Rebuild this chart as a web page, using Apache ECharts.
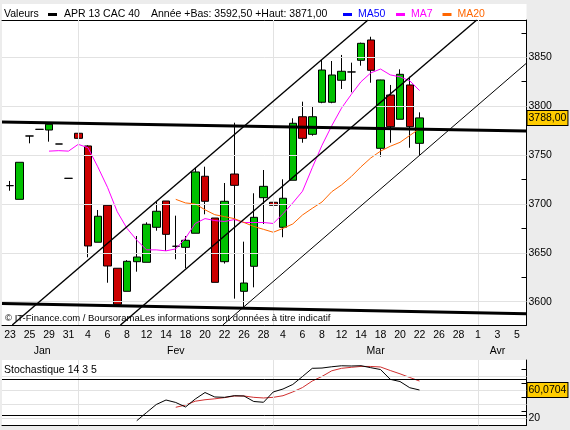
<!DOCTYPE html>
<html><head><meta charset="utf-8">
<script src="https://cdn.jsdelivr.net/npm/echarts@6.0.0/dist/echarts.min.js"></script>
<style>html,body{margin:0;padding:0;background:#ececec;}#chart{width:570px;height:430px;}</style>
</head><body><div id="chart"></div>
<script>
// ---- categories (trading-day slots) ----
const dates = ['23','24','25','28','29','30','31',
  '1','4','5','6','7','8','11','12','13','14','15','18','19','20','21','22','25','26','27','28',
  '1','4','5','6','7','8','11','12','13','14','15','18','19','20','21','22','25','26','27','28','29',
  '1','2','3','4','5'];
const months = ['Jan','Fev','Mar','Avr'];
const monthPos = [3.3, 17, 37.5, 50];
const monthStarts = [7, 27, 48];

// ---- OHLC (slots 0..42) ----
const opens  = [3718.7,3704.7,3769.5,3776.3,3775.6,3761.3,3726.2,3772.3,3759.3,3660.8,3698.6,3634.2,3610.6,3640.9,3640.3,3676.1,3703.0,3656.7,3655.6,3670.0,3728.3,3685.6,3640.9,3730.6,3610.6,3636.2,3706.4,3701.7,3676.1,3724.2,3789.2,3771.2,3804.0,3804.0,3826.5,3835.0,3846.9,3867.7,3756.9,3811.4,3786.6,3821.7,3762.0];
const closes = [3718.7,3742.6,3769.5,3776.3,3781.5,3761.3,3726.2,3767.1,3657.0,3687.4,3636.5,3597.3,3641.3,3645.7,3679.2,3692.5,3668.9,3656.7,3662.8,3732.7,3702.7,3619.8,3702.7,3719.0,3619.1,3686.3,3718.0,3698.6,3705.8,3782.5,3767.1,3789.2,3837.0,3831.9,3835.7,3835.0,3864.3,3836.7,3826.8,3779.0,3832.6,3779.0,3788.0];
const lows   = [3713.5,3704.7,3762.0,3776.3,3763.7,3761.3,3726.2,3767.1,3645.4,3660.8,3619.4,3597.3,3610.6,3630.7,3640.3,3672.6,3651.9,3643.4,3634.2,3670.0,3689.4,3619.8,3639.0,3603.1,3592.5,3614.7,3679.5,3656.3,3665.9,3724.2,3762.6,3769.8,3803.0,3803.0,3817.6,3814.2,3841.4,3824.0,3748.3,3762.6,3786.6,3757.5,3750.1];
const highs  = [3723.5,3742.6,3769.5,3776.3,3781.5,3761.3,3726.2,3776.3,3760.0,3693.8,3698.6,3634.2,3642.5,3667.2,3681.2,3702.3,3703.0,3688.0,3667.2,3737.1,3738.1,3685.6,3721.4,3783.1,3661.4,3710.9,3734.7,3723.5,3725.2,3787.6,3804.6,3800.2,3847.2,3846.2,3852.4,3844.5,3865.0,3871.0,3827.0,3821.7,3837.7,3830.2,3793.7];

// ---- moving averages ----
const ma7Start = 4;
const ma7 = [3754,3754.5,3754,3761,3757.5,3738,3717,3692,3675,3663,3653,3653,3652,3654,3665,3680,3685,3683,3682,3684,3681,3681,3681,3680,3690,3701,3713,3737,3760,3780,3798,3812,3825,3834,3838,3832,3830,3826,3816];
const ma20Start = 17;
const ma20 = [3704.7,3701,3700,3694,3689,3687,3685,3681,3677,3674,3671,3675,3679.5,3688.7,3695.5,3702,3712.5,3719.4,3728,3738,3747,3754,3759,3763,3770,3777];

// ---- stochastic 14 3 5 ----
const stochKStart = 13;
const stochK = [16.6,28.1,39.5,45.9,42.4,36,47.3,56.5,50.2,49.7,52,51.6,43.8,42.7,57.3,61.5,67.9,79.2,90.8,91.2,93,94.4,94.1,94.5,91.7,89.1,75.2,72.1,63.3,60.0704];
const stochDStart = 17;
const stochD = [35.6,38.8,44.2,46.3,47.6,49.3,51.6,51.6,49.7,48.8,49.7,52,57.3,63.6,72.8,79.3,87.3,90.8,92.2,93.5,93.4,92.7,87.7,83,77.8,72.8];

// ---- drawn trend lines [slot, price] ----
const resistance = [[-0.82, 3783.8], [52.97, 3774.6]];
const support = [[-0.82, 3598.2], [52.97, 3587.7]];
const channelUpper = [[0.23, 3576.2], [36.72, 3888.2]];
const channelMiddle = [[11.33, 3576.2], [47.87, 3888.2]];
const channelLower = [[21.83, 3576.2], [52.97, 3844.0]];

// ---- ticks ----
const priceLabels = [3600, 3650, 3700, 3750, 3800, 3850];
const priceTicks = [3600, 3625, 3650, 3675, 3700, 3725, 3750, 3775, 3800, 3825, 3850, 3875];
const stochLabels = [20];
const stochTicks = [20, 30, 40, 50, 60, 70, 80, 90];
const stochGridVals = [20, 40, 60, 80];
const stochBands = [25, 75];
const yearLow = 3592.5, yearHigh = 3871.0;

// ---------------------------------------------------------
const FONT = '"Liberation Sans", Arial, sans-serif';
const FS = 10.5;
const fr = (v, d) => v.toFixed(d).replace('.', ',');
const lastClose = closes[closes.length - 1];
const lastStoch = stochK[stochK.length - 1];
const xMin = -0.8205, xMax = 52.974;
const yMin = 3576.15, yMax = 3888.15;
const sMin = 10.08, sMax = 102.58;
const GRIDC = '#e2e2e2';

const candleData = opens.map((o, i) => [i, o, closes[i], lows[i], highs[i]]);
const ma7Data = ma7.map((v, i) => [i + ma7Start, v]);
const ma20Data = ma20.map((v, i) => [i + ma20Start, v]);
const kData = stochK.map((v, i) => [i + stochKStart, v]);
const dData = stochD.map((v, i) => [i + stochDStart, v]);
const labelSlots = dates.map((d, i) => i).filter(i => i % 2 === 0);

const chart = echarts.init(document.getElementById('chart'), null, {renderer: 'canvas'});

const baseX = (grid, extra) => Object.assign({
  type: 'value', gridIndex: grid, min: xMin, max: xMax,
  axisLine: {show: false, onZero: false}, axisTick: {show: false}, axisLabel: {show: false}, splitLine: {show: false}
}, extra);
const blackLine = {show: true, onZero: false, lineStyle: {color: '#000', width: 1}};

function trend(points, width) {
  return {type: 'line', xAxisIndex: 0, yAxisIndex: 0, data: points, symbol: 'none', showSymbol: false,
    lineStyle: {color: '#000', width: width}, z: 6, clip: true, silent: true, animation: false};
}
function valueTag(v, text) {
  return {silent: true, symbol: 'none', animation: false, emphasis: {disabled: true},
    lineStyle: {color: 'rgba(0,0,0,0)', width: 0},
    data: [{yAxis: v}],
    label: {show: true, position: 'end', distance: 1, formatter: text, color: '#000',
      fontFamily: FONT, fontSize: FS, backgroundColor: '#ffcc00', borderColor: '#000', borderWidth: 1,
      padding: [2, 1, 1, 1]}};
}

const lbl = {fontFamily: FONT, fontSize: FS, color: '#000'};
const tf = FS + 'px ' + FONT;

const option = {
  animation: false,
  backgroundColor: '#ececec',
  textStyle: {fontFamily: FONT},
  grid: [
    {left: 2, right: 43.5, top: 20, height: 305, show: true, backgroundColor: '#fff', borderWidth: 0, outerBoundsMode: 'none'},
    {left: 2, right: 43.5, top: 360, height: 65.3, show: true, backgroundColor: '#fff', borderWidth: 0, outerBoundsMode: 'none'}
  ],
  xAxis: [
    baseX(0, {position: 'bottom', axisLine: blackLine,
      axisLabel: Object.assign({show: true, margin: 5, customValues: labelSlots, formatter: v => dates[Math.round(v)]}, lbl)}),
    baseX(0, {position: 'bottom', offset: 15.5,
      axisLabel: Object.assign({show: true, margin: 5, customValues: monthPos, formatter: v => months[monthPos.indexOf(v)]}, lbl)}),
    baseX(0, {position: 'top', axisLine: blackLine}),
    baseX(1, {position: 'bottom', axisLine: blackLine})
  ],
  yAxis: [
    {type: 'value', gridIndex: 0, position: 'right', min: yMin, max: yMax,
      axisLine: blackLine,
      axisTick: {show: true, inside: true, length: 5, customValues: priceTicks, lineStyle: {color: '#000'}},
      axisLabel: Object.assign({show: true, margin: 2, customValues: priceLabels, formatter: v => String(v)}, lbl),
      splitLine: {show: false}},
    {type: 'value', gridIndex: 1, position: 'right', min: sMin, max: sMax,
      axisLine: blackLine,
      axisTick: {show: true, inside: true, length: 5, customValues: stochTicks, lineStyle: {color: '#000'}},
      axisLabel: Object.assign({show: true, margin: 2, customValues: stochLabels, formatter: v => String(v)}, lbl),
      splitLine: {show: false}}
  ],
  series: [
    {type: 'line', name: 'gridMain', xAxisIndex: 0, yAxisIndex: 0, data: [], z: 1, silent: true,
      markLine: {silent: true, symbol: 'none', animation: false, label: {show: false}, emphasis: {disabled: true},
        lineStyle: {color: GRIDC, width: 1, type: 'solid'},
        data: priceLabels.map(v => ({yAxis: v})).concat(monthStarts.map(v => ({xAxis: v})))}},
    {type: 'candlestick', name: 'APR 13 CAC 40', xAxisIndex: 0, yAxisIndex: 0, data: candleData,
      encode: {x: 0, y: [1, 2, 3, 4]}, barWidth: 8, z: 3, silent: true,
      itemStyle: {color: '#00c000', color0: '#cc0000', borderColor: '#000', borderColor0: '#000', borderColorDoji: '#000', borderWidth: 1}},
    {type: 'line', name: 'MA7', xAxisIndex: 0, yAxisIndex: 0, data: ma7Data, symbol: 'none', showSymbol: false,
      lineStyle: {color: '#ff00ff', width: 1}, z: 4, silent: true},
    {type: 'line', name: 'MA20', xAxisIndex: 0, yAxisIndex: 0, data: ma20Data, symbol: 'none', showSymbol: false,
      lineStyle: {color: '#ff6600', width: 1}, z: 4, silent: true},
    trend(resistance, 3),
    trend(support, 3),
    trend(channelUpper, 1.4),
    trend(channelMiddle, 1.4),
    trend(channelLower, 1),
    {type: 'line', name: 'lastClose', xAxisIndex: 0, yAxisIndex: 0, data: [], z: 8, silent: true,
      markLine: valueTag(lastClose, fr(lastClose, 2))},
    {type: 'line', name: 'gridStoch', xAxisIndex: 3, yAxisIndex: 1, data: [], z: 1, silent: true,
      markLine: {silent: true, symbol: 'none', animation: false, label: {show: false}, emphasis: {disabled: true},
        lineStyle: {color: GRIDC, width: 1, type: 'solid'},
        data: stochGridVals.map(v => ({yAxis: v})).concat(monthStarts.map(v => ({xAxis: v})))}},
    {type: 'line', name: 'bandsStoch', xAxisIndex: 3, yAxisIndex: 1, data: [], z: 2, silent: true,
      markLine: {silent: true, symbol: 'none', animation: false, label: {show: false}, emphasis: {disabled: true},
        lineStyle: {color: '#000', width: 1, type: 'solid'},
        data: stochBands.map(v => ({yAxis: v}))}},
    {type: 'line', name: '%D', xAxisIndex: 3, yAxisIndex: 1, data: dData, symbol: 'none', showSymbol: false,
      lineStyle: {color: '#d03030', width: 1}, z: 4, silent: true},
    {type: 'line', name: '%K', xAxisIndex: 3, yAxisIndex: 1, data: kData, symbol: 'none', showSymbol: false,
      lineStyle: {color: '#000', width: 1}, z: 5, silent: true},
    {type: 'line', name: 'lastStoch', xAxisIndex: 3, yAxisIndex: 1, data: [], z: 8, silent: true,
      markLine: valueTag(lastStoch, fr(lastStoch, 4))}
  ],
  graphic: [
    {type: 'rect', x: 2, y: 4, shape: {width: 524.5, height: 16}, style: {fill: '#fff'}, silent: true, z: 0},
    {type: 'text', x: 4, y: 14.5, style: {text: 'Valeurs', fill: '#000', font: tf, verticalAlign: 'middle'}, z: 10},
    {type: 'rect', x: 48, y: 13, shape: {width: 9, height: 3}, style: {fill: '#000'}, z: 10},
    {type: 'text', x: 64, y: 14.5, style: {text: 'APR 13 CAC 40', fill: '#000', font: tf, verticalAlign: 'middle'}, z: 10},
    {type: 'text', x: 151, y: 14.5, style: {text: 'Année +Bas: ' + fr(yearLow, 2) + ' +Haut: ' + fr(yearHigh, 2), fill: '#000', font: tf, verticalAlign: 'middle'}, z: 10},
    {type: 'rect', x: 343, y: 13, shape: {width: 9, height: 3}, style: {fill: '#0000ff'}, z: 10},
    {type: 'text', x: 358, y: 14.5, style: {text: 'MA50', fill: '#0000ff', font: tf, verticalAlign: 'middle'}, z: 10},
    {type: 'rect', x: 396, y: 13, shape: {width: 9, height: 3}, style: {fill: '#ff00ff'}, z: 10},
    {type: 'text', x: 411, y: 14.5, style: {text: 'MA7', fill: '#ff00ff', font: tf, verticalAlign: 'middle'}, z: 10},
    {type: 'rect', x: 442.5, y: 13, shape: {width: 9, height: 3}, style: {fill: '#ff6600'}, z: 10},
    {type: 'text', x: 457.5, y: 14.5, style: {text: 'MA20', fill: '#ff6600', font: tf, verticalAlign: 'middle'}, z: 10},
    {type: 'text', x: 5, y: 318, style: {text: '© IT-Finance.com / BoursoramaLes informations sont données à titre indicatif', fill: '#000', font: '9.5px ' + FONT, verticalAlign: 'middle'}, z: 10},
    {type: 'text', x: 4, y: 370.5, style: {text: 'Stochastique 14 3 5', fill: '#000', font: tf, verticalAlign: 'middle'}, z: 10}
  ]
};
chart.setOption(option);
</script>
</body></html>
